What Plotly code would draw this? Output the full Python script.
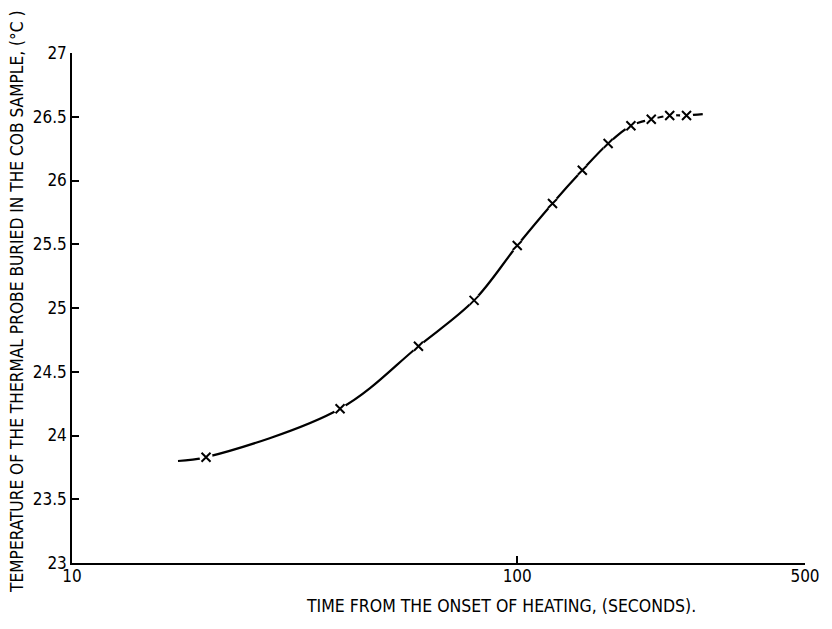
import plotly.graph_objects as go

# Data
time_s = [20, 40, 60, 80, 100, 120, 140, 160, 180, 200, 220, 240]
temp_c = [23.83, 24.21, 24.70, 25.06, 25.49, 25.82, 26.08, 26.29, 26.43, 26.48, 26.51, 26.51]

# smooth curve drawn through the points, extending a little beyond them
curve_start = (17.3, 23.80)
curve_end = (261, 26.52)
curve_t = [curve_start[0]] + time_s + [curve_end[0]]
curve_v = [curve_start[1]] + temp_c + [curve_end[1]]

x_tick_vals = [10, 100, 10 ** 2.6463]   # the original's "500" tick sits at the axis end
x_tick_text = ["10", "100", "500"]
y_tick_vals = [23, 23.5, 24, 24.5, 25, 25.5, 26, 26.5, 27]

FONT = "DejaVu Sans Condensed, Liberation Sans Narrow, DejaVu Sans, sans-serif"

fig = go.Figure()
fig.add_trace(go.Scatter(
    x=curve_t, y=curve_v, mode="lines",
    line=dict(color="black", width=2.2, shape="spline", smoothing=1.0),
    hoverinfo="skip", showlegend=False))
# white halo to break the line around each cross
fig.add_trace(go.Scatter(
    x=time_s, y=temp_c, mode="markers",
    marker=dict(symbol="circle", size=13, color="white", line=dict(width=0)),
    hoverinfo="skip", showlegend=False))
fig.add_trace(go.Scatter(
    x=time_s, y=temp_c, mode="markers",
    marker=dict(symbol="x-thin", size=9, color="black",
                line=dict(color="black", width=2)),
    showlegend=False))

fig.update_layout(
    width=824, height=621,
    margin=dict(l=64, r=21, t=45, b=66),
    paper_bgcolor="white", plot_bgcolor="white",
    font=dict(family=FONT, size=17, color="black"),
    xaxis=dict(type="log", range=[1, 2.6463],
               tickvals=x_tick_vals, ticktext=x_tick_text,
               ticks="inside", ticklen=7, tickwidth=1.5, tickcolor="black",
               showline=True, linecolor="black", linewidth=1.5,
               showgrid=False, zeroline=False, ticklabelstandoff=-3),
    yaxis=dict(range=[23, 27], tickvals=y_tick_vals,
               ticks="inside", ticklen=7, tickwidth=1.5, tickcolor="black",
               showline=True, linecolor="black", linewidth=1.5,
               showgrid=False, zeroline=False, ticklabelstandoff=0),
    annotations=[
        dict(text="TEMPERATURE OF THE THERMAL PROBE BURIED IN THE COB SAMPLE, (°C )",
             xref="paper", yref="paper", x=0, y=0.5, xshift=-55, yshift=6,
             xanchor="center", yanchor="middle", textangle=-90,
             showarrow=False, font=dict(family=FONT, size=17.2, color="black")),
        dict(text="TIME FROM THE ONSET OF HEATING, (SECONDS).",
             xref="paper", yref="paper", x=(497 - 64) / 739, y=0, yshift=-43,
             xanchor="center", yanchor="middle",
             showarrow=False, font=dict(family=FONT, size=17.5, color="black")),
    ],
)

fig.write_html("out.html")
